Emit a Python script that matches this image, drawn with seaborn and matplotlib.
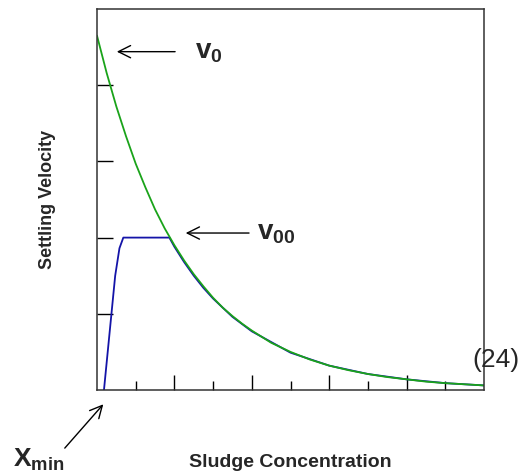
import numpy as np
import matplotlib
matplotlib.use("Agg")
import matplotlib.pyplot as plt
import seaborn as sns

# settling velocity curve (green)
green_x = [0, 0.25, 0.5, 0.75, 1.0, 1.25, 1.5, 1.75, 2.0, 2.25, 2.5, 2.75,
           3.0, 3.25, 3.5, 3.75, 4.0, 4.5, 5.0, 5.5, 6.0, 6.5, 7.0, 7.5,
           8.0, 8.5, 9.0, 9.5, 10.0]
green_y = [4.65, 4.16, 3.72, 3.33, 2.97, 2.66, 2.37, 2.12, 1.90, 1.70, 1.52, 1.36,
           1.21, 1.08, 0.97, 0.87, 0.78, 0.62, 0.50, 0.40, 0.32, 0.26, 0.21, 0.17,
           0.14, 0.11, 0.09, 0.075, 0.06]

# limited velocity curve (blue)
blue_x = [0.18, 0.47, 0.58, 0.68, 1.87, 2.0, 2.25, 2.5, 2.75, 3.0, 3.5, 4.0,
          5.0, 6.0, 7.0, 8.0, 9.0, 10.0]
blue_y = [0.0, 1.5, 1.86, 2.0, 2.0, 1.88, 1.68, 1.50, 1.34, 1.20, 0.96, 0.77,
          0.49, 0.32, 0.21, 0.14, 0.09, 0.06]

major_x = [2, 4, 6, 8]
minor_x = [1, 3, 5, 7, 9]
y_ticks = [1, 2, 3, 4]

sns.set_style("white")
plt.rcParams['font.family'] = ['Liberation Sans', 'DejaVu Sans']
plt.rcParams['mathtext.fontset'] = 'custom'
plt.rcParams['mathtext.rm'] = 'Liberation Sans'
plt.rcParams['mathtext.bf'] = 'Liberation Sans:bold'

fig = plt.figure(figsize=(5.31, 4.74), dpi=100)
ax = fig.add_axes([97 / 531, 84 / 474, 387 / 531, 381 / 474])

sns.lineplot(x=blue_x, y=blue_y, ax=ax, color='#1414a8', linewidth=1.3,
             sort=False, estimator=None)
sns.lineplot(x=green_x, y=green_y, ax=ax, color='#1aa31a', linewidth=1.3,
             sort=False, estimator=None)

ax.set_xlim(0, 10)
ax.set_ylim(0, 5)
ax.set_xticks(major_x)
ax.set_xticks(minor_x, minor=True)
ax.set_yticks(y_ticks)
ax.set_xticklabels([])
ax.set_yticklabels([])
ax.tick_params(axis='x', which='major', direction='in', length=10.5, width=1, color='black')
ax.tick_params(axis='x', which='minor', direction='in', length=6.5, width=1, color='black')
ax.tick_params(axis='y', which='major', direction='in', length=11.5, width=1, color='black', left=True)
ax.tick_params(axis='x', which='both', bottom=True)
for s in ax.spines.values():
    s.set_color('#333333')
    s.set_linewidth(1.1)

ax.set_xlabel('Sludge Concentration', fontsize=14, fontweight='bold', va='center')
ax.set_ylabel('Settling Velocity', fontsize=13, fontweight='bold')
ax.xaxis.set_label_coords(0.5, -0.189)
ax.yaxis.set_label_coords(-0.106, 0.5)

arrow = dict(arrowstyle='->', color='black', lw=1, mutation_scale=22)
ax.annotate('', xy=(0.44, 4.44), xytext=(2.09, 4.44), arrowprops=arrow)
ax.text(2.53, 4.44, r'$\mathbf{v}_{\mathbf{0}}$', fontsize=20, va='center')

ax.annotate('', xy=(2.22, 2.06), xytext=(4.0, 2.06), arrowprops=arrow)
ax.text(4.13, 2.06, r'$\mathbf{v}_{\mathbf{00}}$', fontsize=20, va='center')

ax.annotate('', xy=(0.21, -0.16), xytext=(-0.88, -0.79), arrowprops=arrow,
            annotation_clip=False)
ax.text(-2.17, -1.0, r'$\mathbf{X}_{\mathbf{min}}$', fontsize=19, va='baseline',
        clip_on=False)

ax.text(9.69, 0.39, '(24)', fontsize=19, va='center', ha='left', clip_on=False)

fig.savefig('out.png', dpi=100)
